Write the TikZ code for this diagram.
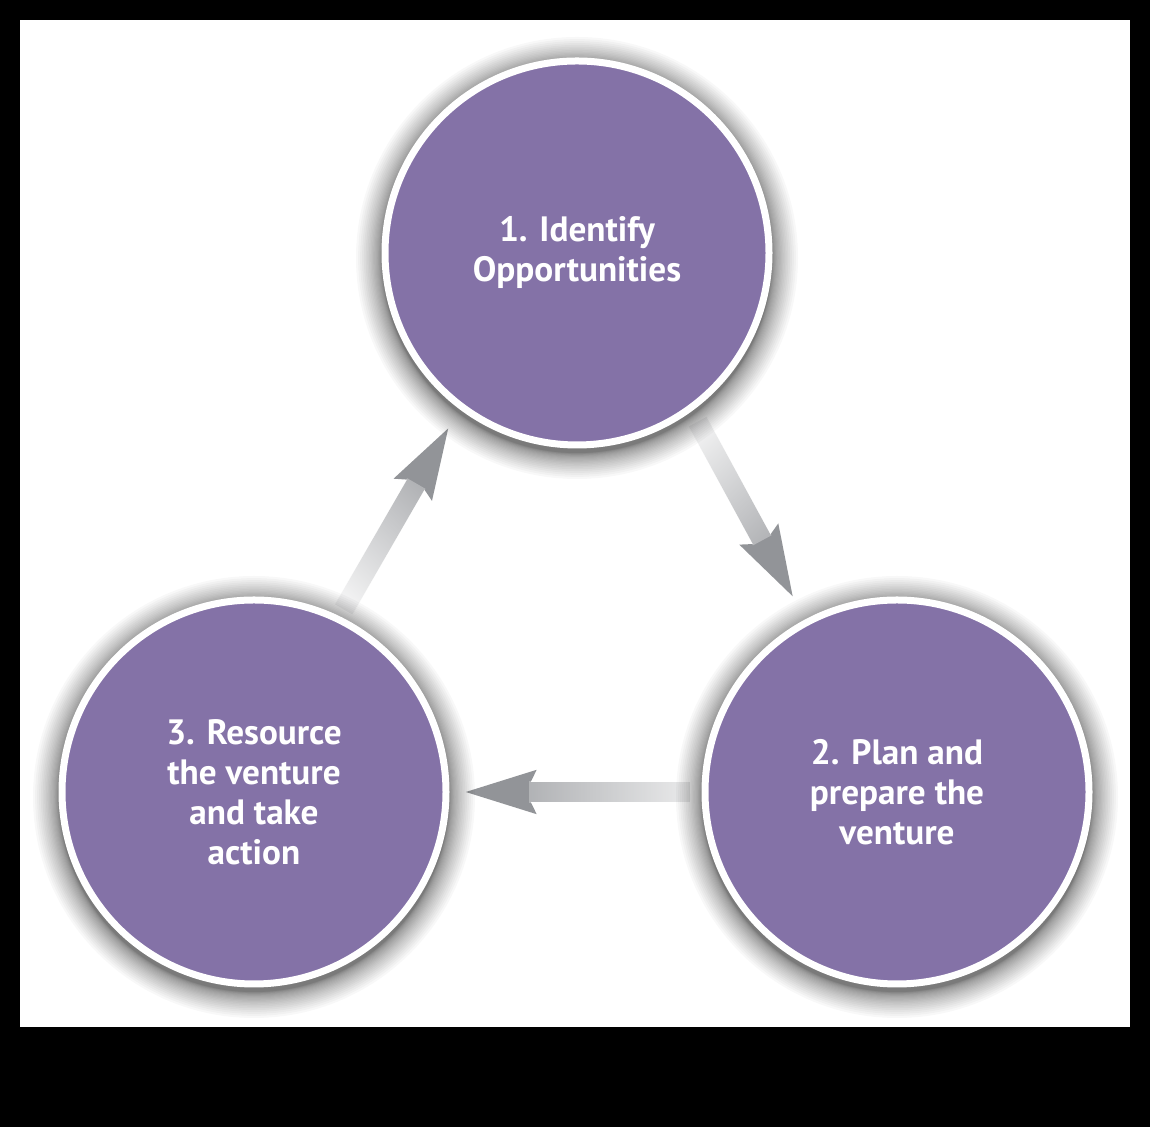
\documentclass[tikz,border=0pt]{standalone}
\usepackage{fontspec}
\setmainfont{PT Sans}
\usetikzlibrary{arrows.meta,fadings,backgrounds}

\definecolor{stagepurple}{RGB}{132,114,167}
\definecolor{arrowgray}{RGB}{146,148,152}

\tikzfading[name=washfade, left color=transparent!12, right color=transparent!100]

\begin{document}
\begin{tikzpicture}[x=0.5pt, y=0.5pt]

    \tikzstyle{stage}=[circle, fill=stagepurple, draw=white, line width=3.5pt, minimum size=192pt, align=center, text=white, font=\fontsize{17.6}{20}\selectfont\bfseries];
    \tikzstyle{flow}=[draw=arrowgray, line width=10pt, -{Stealth[length=35pt, width=20pt, inset=4pt]}];
    \tikzstyle{wash}=[draw=white, line width=10.6pt, path fading=washfade];
    \tikzstyle{halo}=[fill=black, opacity=0.026];

    \node (1) at (577,874) [stage] {1. Identify\\Opportunities};
    \node (2) at (897,335) [stage] {2. Plan and\\prepare the\\venture};
    \node (3) at (254,335) [stage] {3. Resource\\the venture\\and take\\action};

    \begin{scope}[on background layer]
    \fill[black] (0,0) rectangle (1150,1127);
    \fill[white] (20,100) rectangle (1130,1107);

    \draw (1.-54) edge[flow, shorten <=6pt, shorten >=12pt] (2.118)
                  edge[wash, shorten <=5pt, shorten >=45pt, fading angle=-61.6] (2.118);
    \draw (2.180) edge[flow, shorten <=6pt, shorten >=7pt] (3.0)
                  edge[wash, shorten <=5pt, shorten >=40pt, fading angle=180] (3.0);
    \draw (3.64) edge[flow, shorten <=4pt, shorten >=10pt] (1.-127)
                 edge[wash, shorten <=3pt, shorten >=43pt, fading angle=60.6] (1.-127);

    % soft shadow round each stage
    \foreach \s in {1,2,3}
        \foreach \k in {1,...,24}
            \fill[halo] ([yshift=-2.5pt]\s.center) circle ({195+26*(\k/24)^2});
    \end{scope}
    \end{tikzpicture}
\end{document}
